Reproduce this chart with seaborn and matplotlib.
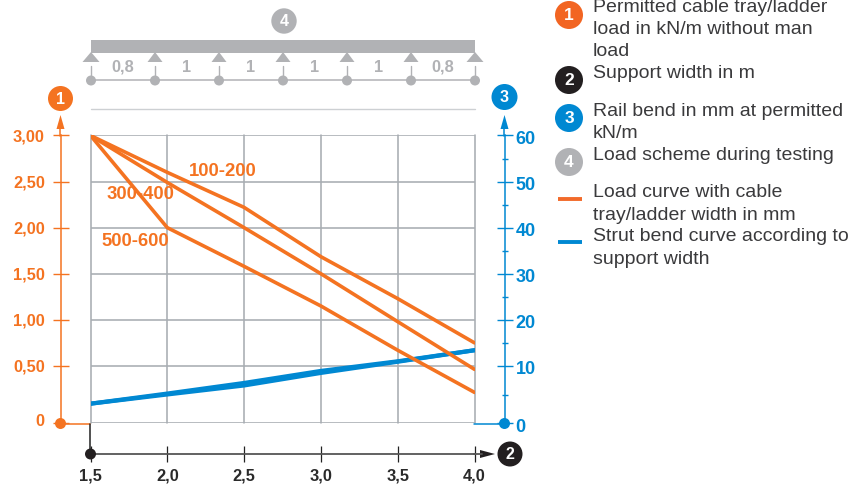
import numpy as np
import pandas as pd
import matplotlib
matplotlib.use("Agg")
import matplotlib.pyplot as plt
from matplotlib.patches import Polygon, Circle, Rectangle
from matplotlib.transforms import ScaledTranslation
import seaborn as sns

# ---------- data ----------
width_m = [1.5, 2.0, 2.5, 3.0, 3.5, 4.0]
load_100_200 = [3.00, 2.60, 2.22, 1.685, 1.23, 0.75]
load_300_400 = [3.00, 2.49, 2.00, 1.50, 0.98, 0.47]
load_500_600 = [3.00, 2.00, 1.58, 1.15, 0.67, 0.27]
bend_upper = [3.44, 5.2, 7.04, 9.13, 11.0, 13.4]
bend_lower = [3.44, 5.04, 6.6, 8.78, 10.9, 13.4]
x_ticks = [1.5, 2.0, 2.5, 3.0, 3.5, 4.0]
x_labels = ["1,5", "2,0", "2,5", "3,0", "3,5", "4,0"]
load_ticks = [0, 0.5, 1.0, 1.5, 2.0, 2.5, 3.0]
load_labels = ["0", "0,50", "1,00", "1,50", "2,00", "2,50", "3,00"]
bend_ticks = [0, 10, 20, 30, 40, 50, 60]
bend_minor = [5, 15, 25, 35, 45, 55]
span_labels = ["0,8", "1", "1", "1", "1", "0,8"]
legend_lines = [("Permitted cable tray/ladder", 8), ("load in kN/m without man", 29), ("load", 52),
                ("Support width in m", 73), ("Rail bend in mm at permitted", 111), ("kN/m", 133),
                ("Load scheme during testing", 155), ("Load curve with cable", 192),
                ("tray/ladder width in mm", 215), ("Strut bend curve according to", 236),
                ("support width", 259)]

ORANGE = "#f47321"
BLUE = "#0088d2"
GREY = "#b1b2b5"
GRID = "#a8adb2"
W, H = 849, 486

sns.set_theme(style="white")
plt.rcParams["font.family"] = ["Liberation Sans", "DejaVu Sans"]

fig = plt.figure(figsize=(W / 100, H / 100), dpi=100)
ax = fig.add_axes([90.5 / W, 1 - 423.5 / H, 384 / W, 288 / H])
bax = ax.twinx()
ax.set_zorder(bax.get_zorder() + 1)
ax.patch.set_visible(False)


def fwd(v):
    v = np.asarray(v, float)
    return np.where(v < 0.5, v * 115, 57.5 + (v - 0.5) * 92)


def inv(p):
    p = np.asarray(p, float)
    return np.where(p < 57.5, p / 115, 0.5 + (p - 57.5) / 92)


ax.set_yscale("function", functions=(fwd, inv))
bax.set_yscale("function", functions=(lambda v: fwd(np.asarray(v, float) / 20), lambda p: inv(p) * 20))

loads = pd.DataFrame({
    "width": width_m * 3,
    "load": load_100_200 + load_300_400 + load_500_600,
    "series": ["100-200"] * 6 + ["300-400"] * 6 + ["500-600"] * 6,
})
bends = pd.DataFrame({
    "width": width_m * 2,
    "bend": bend_upper + bend_lower,
    "series": ["u"] * 6 + ["l"] * 6,
})
sns.lineplot(data=loads, x="width", y="load", units="series", estimator=None, sort=False,
             color=ORANGE, lw=2.6, legend=False, ax=ax, solid_joinstyle="round")
sns.lineplot(data=bends, x="width", y="bend", units="series", estimator=None, sort=False,
             color=BLUE, lw=3.0, legend=False, ax=bax, zorder=5)

ax.set_xlim(1.5, 4.0)
ax.set_ylim(0, 3.0)
bax.set_ylim(0, 60)
ax.set_xlabel("")
ax.set_ylabel("")
bax.set_xlabel("")
bax.set_ylabel("")

# grid lives on the lower (bend) axes so the curves sit above it
bax.xaxis.set_visible(True)
bax.set_xticks(x_ticks)
bax.tick_params(axis="x", bottom=False, top=False, labelbottom=False, labeltop=False)
bax.grid(True, axis="both", color=GRID, lw=1.15)
bax.set_axisbelow(True)
for gl in bax.get_xgridlines() + bax.get_ygridlines():
    gl.set_clip_on(False)

for s in ["top", "right"]:
    ax.spines[s].set_visible(False)
for s in ["top", "left", "bottom"]:
    bax.spines[s].set_visible(False)

# left axis
ax.spines["left"].set_position(("outward", 21.6))
ax.spines["left"].set_color(ORANGE)
ax.spines["left"].set_linewidth(1.1)
ax.set_yticks(load_ticks)
ax.set_yticklabels(load_labels, fontsize=11.8, fontweight="bold", color=ORANGE)
ax.tick_params(axis="y", direction="inout", length=11.5, width=1.0, color=ORANGE, pad=5.5, left=True)
ax.minorticks_off()
zero_lab = ax.get_yticklabels()[0]
zero_lab.set_transform(zero_lab.get_transform() + ScaledTranslation(0, 3 / 100, fig.dpi_scale_trans))

# bottom axis
ax.spines["bottom"].set_position(("outward", 21.6))
ax.spines["bottom"].set_color("#555555")
ax.spines["bottom"].set_linewidth(1.3)
ax.set_xticks(x_ticks)
ax.set_xticklabels(x_labels, fontsize=11.8, fontweight="bold", color="#2a2a2a")
ax.tick_params(axis="x", direction="inout", length=11, width=0.9, color="#222222", pad=5, bottom=True)

# right axis
bax.spines["right"].set_position(("outward", 21.6))
bax.spines["right"].set_color(BLUE)
bax.spines["right"].set_linewidth(1.1)
bax.set_yticks(bend_ticks)
bax.set_yticklabels([str(t) for t in bend_ticks], fontsize=13.0, fontweight="bold", color=BLUE)
bax.set_yticks(bend_minor, minor=True)
bax.tick_params(axis="y", which="major", direction="inout", length=11.5, width=1.0, color=BLUE, pad=2.2, right=True)
bax.tick_params(axis="y", which="minor", direction="inout", length=5, width=1.0, color=BLUE, right=True)
for lab in bax.get_yticklabels():
    lab.set_transform(lab.get_transform() + ScaledTranslation(0, -1.5 / 100, fig.dpi_scale_trans))

# ---------- overlay in pixel coordinates ----------
ov = fig.add_axes([0, 0, 1, 1], zorder=20)
ov.set_xlim(0, W)
ov.set_ylim(H, 0)
ov.axis("off")
ov.patch.set_visible(False)


def badge(x, y, r, col, txt, fs=11.5):
    ov.add_patch(Circle((x, y), r, fc=col, ec="none", zorder=5))
    ov.text(x, y + 0.5, txt, color="white", fontsize=fs, fontweight="bold", ha="center", va="center", zorder=6)


# axis extensions
ov.plot([60.5, 60.5], [136, 122], color=ORANGE, lw=1.1)
ov.add_patch(Polygon([[60.5, 115], [56.5, 129], [64.5, 129]], fc=ORANGE, ec="none"))
ov.plot([504.5, 504.5], [136, 122], color=BLUE, lw=1.1)
ov.add_patch(Polygon([[504.5, 115], [500.5, 129], [508.5, 129]], fc=BLUE, ec="none"))
ov.plot([60.5, 90.5], [423.5, 423.5], color=ORANGE, lw=1.1)
ov.plot([474.5, 504.5], [423.5, 423.5], color=BLUE, lw=1.1)
ov.add_patch(Circle((60.5, 423.5), 5.5, fc=ORANGE, ec="none"))
ov.add_patch(Circle((504.5, 423.5), 5.5, fc=BLUE, ec="none"))
ov.plot([90.5, 90.5], [423.5, 454], color="#222222", lw=1.1)
ov.add_patch(Circle((90.5, 454), 5.5, fc="#231f20", ec="none"))
ov.plot([474, 482], [454, 454], color="#555555", lw=1.3)
ov.add_patch(Polygon([[495, 454], [480, 450], [480, 458]], fc="#231f20", ec="none"))

badge(60.5, 98.5, 12.5, ORANGE, "1")
badge(504.5, 97, 13, BLUE, "3")
badge(510, 454, 12.5, "#231f20", "2")
badge(284, 21, 12.7, GREY, "4")

# load scheme
ov.add_patch(Rectangle((91, 40), 384, 13, fc=GREY, ec="none"))
sup_x = [91 + 64 * i for i in range(7)]
for i, sx in enumerate(sup_x):
    hw = 8.5 if i in (0, 6) else 7.5
    ov.add_patch(Polygon([[sx, 52], [sx - hw, 62], [sx + hw, 62]], fc=GREY, ec="none"))
    ov.plot([sx, sx], [66, 80], color=GREY, lw=1.0)
    ov.add_patch(Circle((sx, 80.5), 5, fc=GREY, ec="none", zorder=4))
ov.plot([91, 475], [80.5, 80.5], color=GREY, lw=1.1)
for i in range(6):
    ov.text(sup_x[i] + 32, 67.5, span_labels[i], color=GREY, fontsize=11.8,
            fontweight="bold", ha="center", va="center")
ov.plot([91, 475], [109.5, 109.5], color="#cdd0d3", lw=1.0)

# curve labels
for txt, x, y in [("100-200", 223, 171), ("300-400", 140, 194), ("500-600", 135, 241)]:
    ov.text(x, y, txt, color=ORANGE, fontsize=13.3, fontweight="bold", ha="center", va="center")

# legend
badge(569, 15, 14, "#f26522", "1", 12.5)
badge(569, 80, 14, "#231f20", "2", 12.5)
badge(569, 118, 14, "#0088d2", "3", 12.5)
badge(569, 162, 14, GREY, "4", 12.5)
ov.plot([558, 582], [199, 199], color="#f26a2a", lw=2.8, solid_capstyle="butt")
ov.plot([558, 582], [242, 242], color=BLUE, lw=2.8, solid_capstyle="butt")
for txt, y in legend_lines:
    ov.text(593, y, txt, color="#3a3a3c", fontsize=14.0, ha="left", va="center")

fig.savefig("out.png", dpi=100, facecolor="white")
